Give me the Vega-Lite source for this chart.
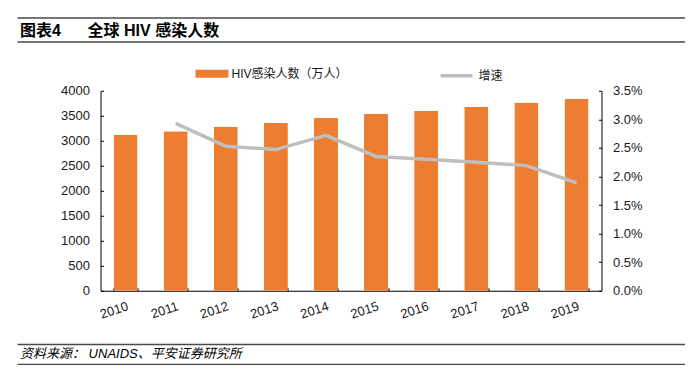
{
  "$schema": "https://vega.github.io/schema/vega-lite/v6.json",
  "padding": {"left": 17, "top": 17.5, "right": 0, "bottom": 0},
  "background": "white",
  "spacing": 49.25,
  "center": true,
  "bounds": "flush",
  "config": {
    "view": {"stroke": null},
    "font": "Liberation Sans, Noto Sans CJK SC",
    "axis": {"labelFont": "Liberation Sans, Noto Sans CJK SC", "labelColor": "#1a1a1a"},
    "legend": {"labelFont": "Liberation Sans, Noto Sans CJK SC", "labelColor": "#1a1a1a"}
  },
  "vconcat": [
    {
      "width": 668,
      "height": 24,
      "data": {"values": [{"t": "图表4\u00a0\u00a0\u00a0\u00a0\u00a0\u00a0全球 HIV 感染人数"}]},
      "mark": {"type": "text", "align": "left", "baseline": "middle", "dx": 3, "dy": 1, "fontSize": 16, "fontWeight": "bold", "color": "#000", "font": "Liberation Sans, Noto Sans CJK SC"},
      "encoding": {
        "text": {"field": "t"},
        "x": {"datum": 0, "type": "quantitative", "scale": {"domain": [0, 1]}, "axis": null},
        "y": {"datum": 0.5, "type": "quantitative", "scale": {"domain": [0, 1]},
          "axis": {"values": [0, 1], "grid": true, "gridColor": "#4a4a4a", "gridWidth": 1.5, "gridOpacity": 1, "domain": false, "ticks": false, "labels": false, "title": null}}
      }
    },
    {
      "width": 501,
      "height": 200,
      "data": {"values": [
        {"year": "2010", "count": 3120, "growth": null},
        {"year": "2011", "count": 3190, "growth": 0.0293},
        {"year": "2012", "count": 3285, "growth": 0.0253},
        {"year": "2013", "count": 3360, "growth": 0.0247},
        {"year": "2014", "count": 3455, "growth": 0.0272},
        {"year": "2015", "count": 3535, "growth": 0.0235},
        {"year": "2016", "count": 3600, "growth": 0.0230},
        {"year": "2017", "count": 3675, "growth": 0.0225},
        {"year": "2018", "count": 3765, "growth": 0.0219},
        {"year": "2019", "count": 3840, "growth": 0.0189}
      ]},
      "encoding": {
        "x": {"field": "year", "type": "ordinal", "title": null,
          "scale": {"paddingInner": 0.52, "paddingOuter": 0.26},
          "axis": {"labelAngle": -18, "labelAlign": "right", "labelBaseline": "top", "labelFontSize": 13, "labelPadding": 12,
            "tickBand": "extent", "tickSize": -3, "tickColor": "#000", "domainColor": "#000", "domainWidth": 1}}
      },
      "layer": [
        {
          "mark": {"type": "bar", "cornerRadiusEnd": 1},
          "encoding": {
            "y": {"field": "count", "type": "quantitative", "title": null,
              "scale": {"domain": [0, 4000]},
              "axis": {"values": [0, 500, 1000, 1500, 2000, 2500, 3000, 3500, 4000], "format": "d", "grid": false, "labelFontSize": 13,
                "tickSize": -3, "labelPadding": 14, "tickColor": "#000", "domainColor": "#000"}},
            "fill": {"datum": "HIV感染人数（万人）", "type": "nominal", "scale": {"range": ["#ED7D31"]},
              "legend": {"orient": "none", "legendX": 104, "legendY": -24.5, "title": null, "symbolType": "M-2.2,-0.53H2.2V0.53H-2.2Z",
                "symbolSize": 225, "symbolStrokeWidth": 0, "labelFontSize": 12, "labelOffset": 12}}
          }
        },
        {
          "mark": {"type": "line", "strokeWidth": 3.5},
          "encoding": {
            "y": {"field": "growth", "type": "quantitative", "title": null,
              "scale": {"domain": [0, 0.035]},
              "axis": {"orient": "right", "values": [0, 0.005, 0.01, 0.015, 0.02, 0.025, 0.03, 0.035], "format": ".1%", "grid": false,
                "labelFontSize": 13, "tickSize": -3, "labelPadding": 14, "tickColor": "#000", "domainColor": "#000"}},
            "stroke": {"datum": "增速", "type": "nominal", "scale": {"range": ["#BFBFBF"]},
              "legend": {"orient": "none", "legendX": 346.5, "legendY": -24.5, "title": null, "symbolType": "M-2.13,0H2.13",
                "symbolSize": 225, "symbolStrokeWidth": 3.5, "labelFontSize": 12, "labelOffset": 12.5}}
          }
        }
      ],
      "resolve": {"scale": {"y": "independent", "fill": "independent", "stroke": "independent"}}
    },
    {
      "width": 668,
      "height": 24,
      "data": {"values": [{"t": "资料来源： UNAIDS、平安证券研究所"}]},
      "mark": {"type": "text", "align": "left", "baseline": "middle", "dx": 3, "dy": 0, "fontSize": 13, "fontStyle": "italic", "color": "#000", "font": "Liberation Sans, Noto Sans CJK SC"},
      "encoding": {
        "text": {"field": "t"},
        "x": {"datum": 0, "type": "quantitative", "scale": {"domain": [0, 1]}, "axis": null},
        "y": {"datum": 0.5, "type": "quantitative", "scale": {"domain": [0, 1.2]},
          "axis": {"values": [0, 1], "grid": true, "gridColor": "#4a4a4a", "gridWidth": 1.5, "gridOpacity": 1, "domain": false, "ticks": false, "labels": false, "title": null}}
      }
    }
  ]
}
